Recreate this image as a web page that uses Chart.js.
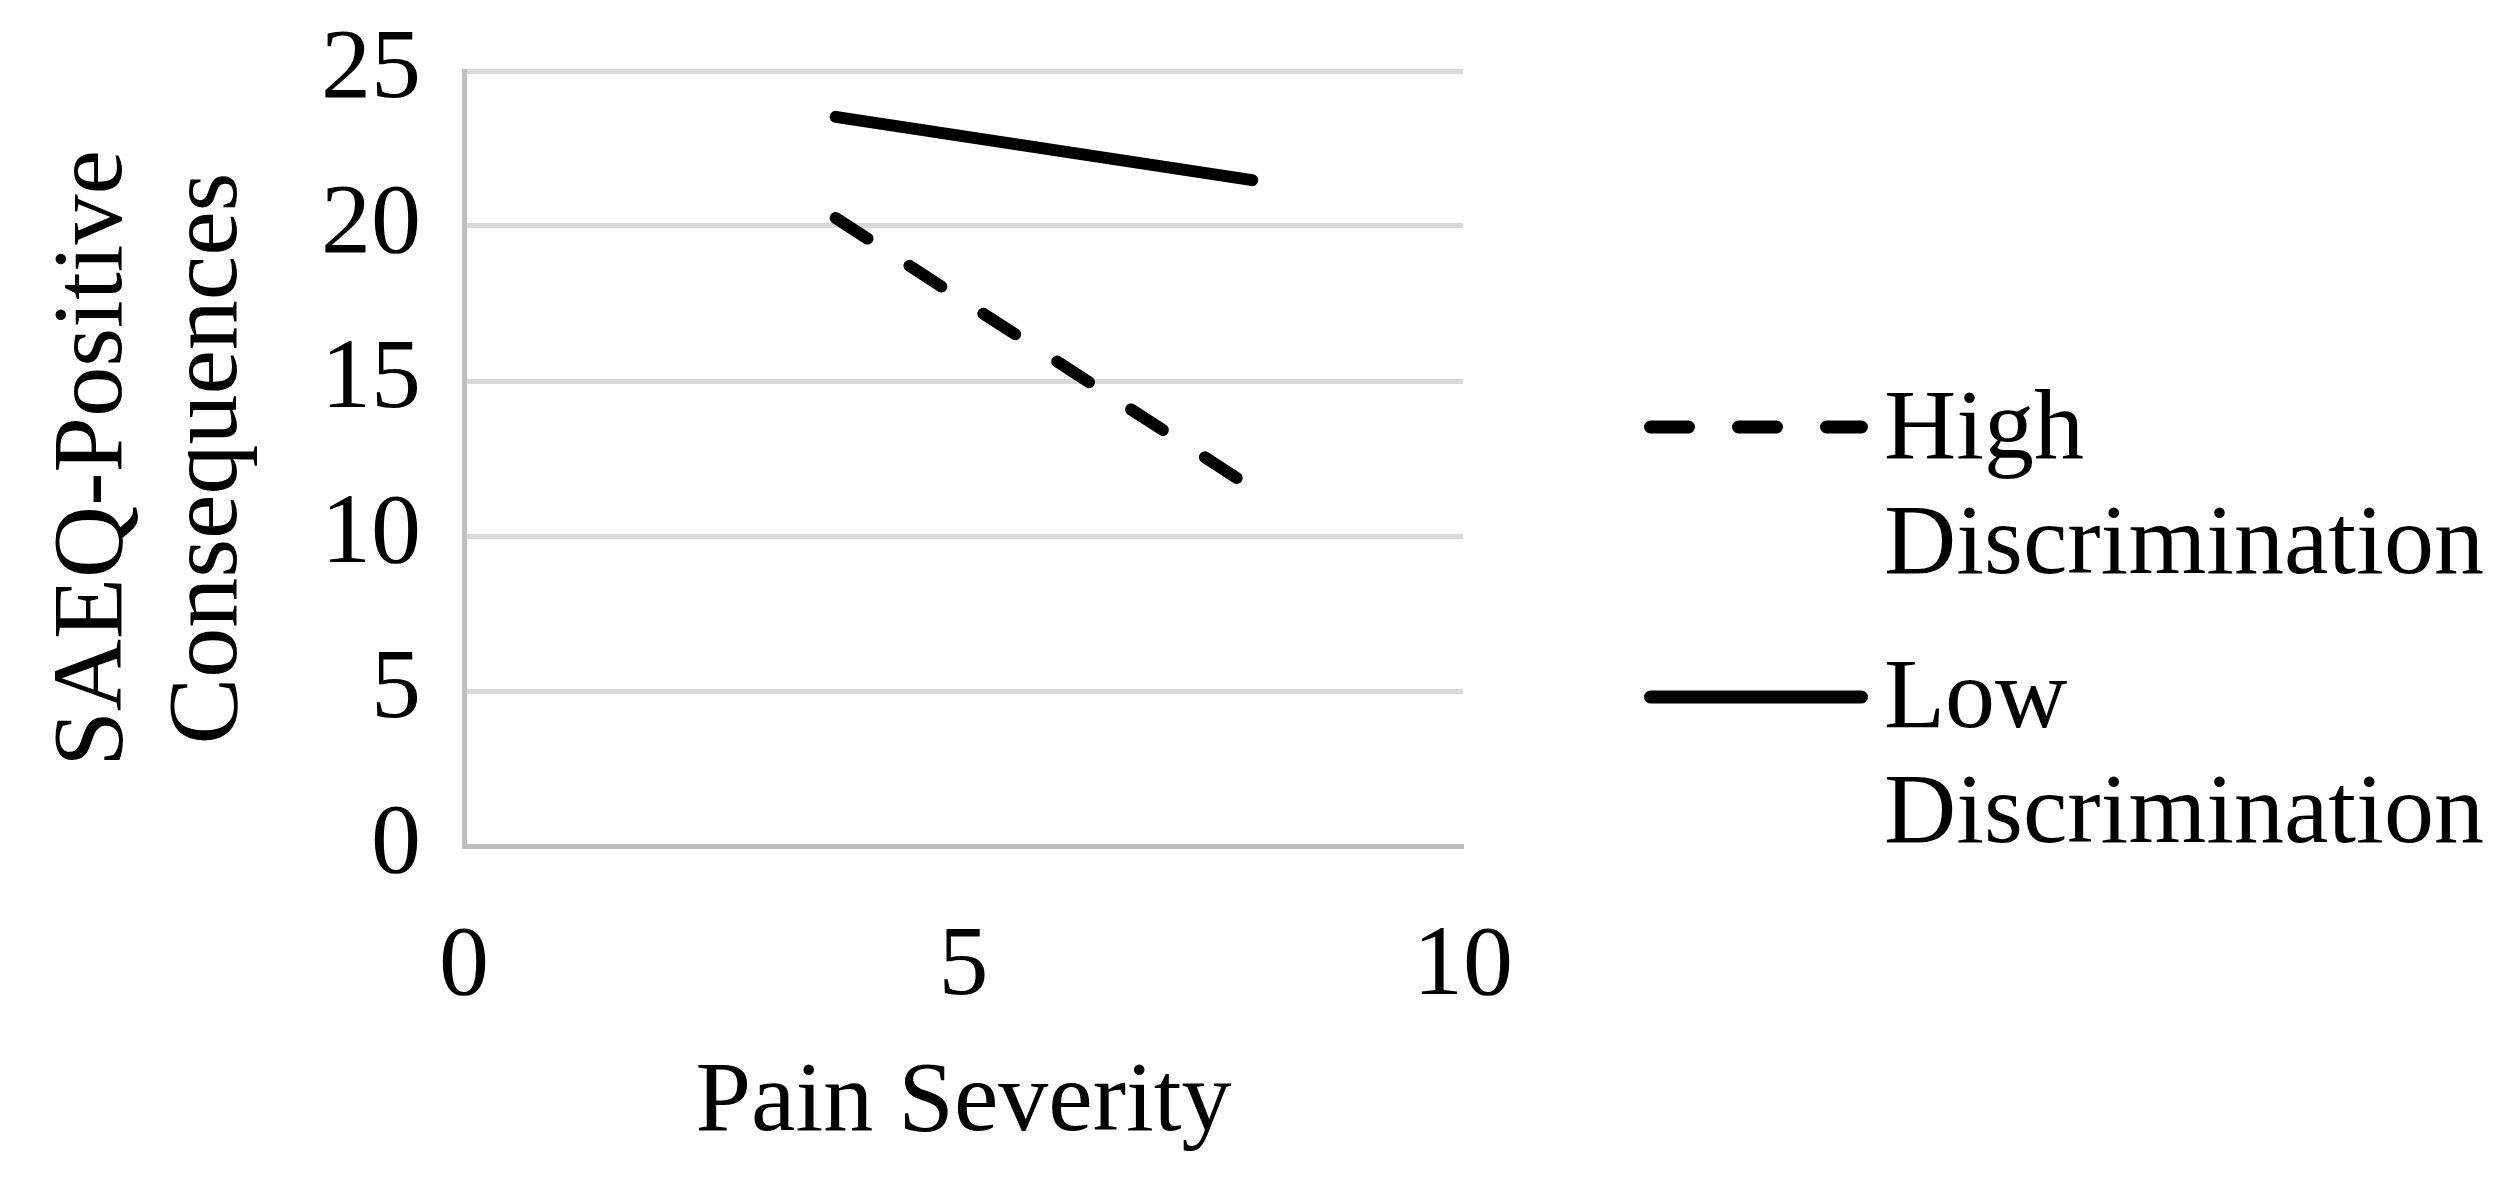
<!DOCTYPE html>
<html>
<head>
<meta charset="utf-8">
<script src="https://cdn.jsdelivr.net/npm/chart.js@4.4.1/dist/chart.umd.min.js"></script>
<style>
  html, body { margin: 0; padding: 0; background: #fff; }
  #wrap { width: 2518px; height: 1196px; }
</style>
</head>
<body>
<div id="wrap"><canvas id="chart" width="2518" height="1196"></canvas></div>
<script>
// data
const painSeverity = [3.72, 7.89];
const highDiscrimination = [20.26, 11.55];
const lowDiscrimination = [23.52, 21.48];
const seriesNames = ['High Discrimination', 'Low Discrimination'];
const xTicks = [0, 5, 10];
const yTicks = [0, 5, 10, 15, 20, 25];

const FONT = "'Liberation Serif', 'Times New Roman', serif";
const FS = 100;

const toPoints = ys => painSeverity.map((x, i) => ({ x, y: ys[i] }));

// legend drawn by hand so the labels can wrap onto two lines
const legendBox = {
  id: 'legendBox',
  afterDraw(chart) {
    const ctx = chart.ctx;
    const items = [
      { ds: chart.data.datasets[0], lineY: 427, baseY: 458 },
      { ds: chart.data.datasets[1], lineY: 697, baseY: 727 }
    ];
    ctx.save();
    items.forEach(it => {
      ctx.strokeStyle = it.ds.borderColor;
      ctx.lineWidth = 13;
      ctx.lineCap = 'round';
      ctx.setLineDash(it.ds.borderDash || []);
      ctx.beginPath();
      ctx.moveTo(1650.5, it.lineY);
      ctx.lineTo(1861.5, it.lineY);
      ctx.stroke();
      ctx.setLineDash([]);
      ctx.fillStyle = '#000';
      ctx.font = FS + 'px ' + FONT;
      ctx.textAlign = 'left';
      ctx.textBaseline = 'alphabetic';
      it.ds.label.split(' ').forEach((w, j) => {
        ctx.fillText(w, 1884, it.baseY + j * 115);
      });
    });
    ctx.restore();
  }
};

new Chart(document.getElementById('chart'), {
  type: 'scatter',
  data: {
    datasets: [
      {
        label: seriesNames[0],
        data: toPoints(highDiscrimination),
        showLine: true,
        borderColor: '#000',
        borderWidth: 12,
        borderDash: [38, 50],
        borderCapStyle: 'round',
        pointRadius: 0
      },
      {
        label: seriesNames[1],
        data: toPoints(lowDiscrimination),
        showLine: true,
        borderColor: '#000',
        borderWidth: 12,
        borderCapStyle: 'round',
        pointRadius: 0
      }
    ]
  },
  options: {
    responsive: false,
    animation: false,
    layout: { padding: { top: 71, right: 1055, left: 0, bottom: 0 } },
    plugins: { legend: { display: false }, tooltip: { enabled: false } },
    scales: {
      x: {
        type: 'linear',
        min: 0, max: 10,
        afterBuildTicks: s => { s.ticks = xTicks.map(v => ({ value: v })); },
        afterFit: s => { s.height = 350; s.paddingLeft = 0; s.paddingRight = 0; },
        grid: { display: false, drawTicks: false },
        border: { color: '#bfbfbf', width: 5 },
        ticks: { padding: 62, color: '#000', font: { family: FONT, size: FS } },
        title: {
          display: true, text: 'Pain Severity', color: '#000',
          font: { family: FONT, size: FS, lineHeight: 1.15 },
          padding: { top: 0, bottom: 35 }
        }
      },
      y: {
        min: 0, max: 25,
        afterBuildTicks: s => { s.ticks = yTicks.map(v => ({ value: v })); },
        afterFit: s => { s.width = 464; s.paddingTop = 0; s.paddingBottom = 0; },
        grid: { color: '#d9d9d9', lineWidth: 5, drawTicks: false },
        border: { color: '#bfbfbf', width: 5 },
        ticks: { padding: 43, color: '#000', font: { family: FONT, size: FS } },
        title: {
          display: true, text: ['SAEQ-Positive', 'Consequences'], color: '#000',
          font: { family: FONT, size: FS, lineHeight: 1.15 },
          padding: { top: 37, bottom: 0 }
        }
      }
    }
  },
  plugins: [legendBox]
});
</script>
</body>
</html>
